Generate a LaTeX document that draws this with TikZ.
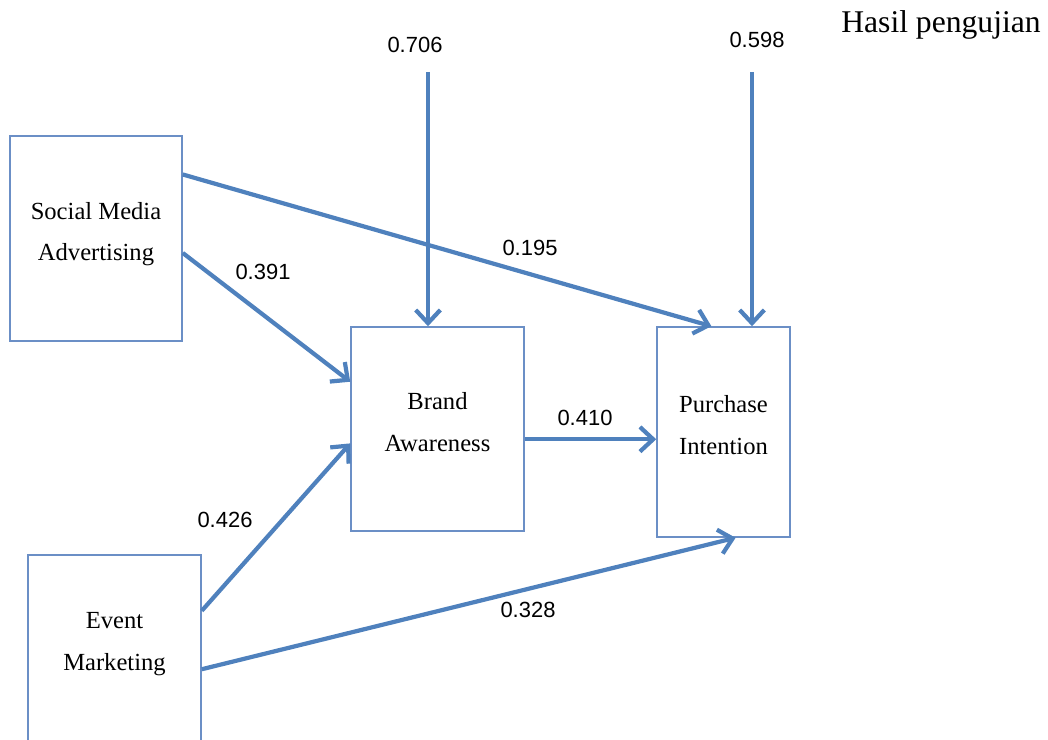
\documentclass[tikz,border=0pt]{standalone}
\usepackage{fontspec}
\setmainfont{Liberation Serif}
\newfontfamily\numfont{Liberation Sans}
\usetikzlibrary{arrows.meta,positioning,calc}
\definecolor{linkblue}{HTML}{4F81BD}
\definecolor{boxblue}{HTML}{6B8FC6}

\begin{document}
\begin{tikzpicture}[x=0.02cm,y=-0.02cm,
			var/.style={rectangle,draw=boxblue,line width=0.9pt,align=center,inner sep=0pt,text depth=0.28cm,
				font=\fontsize{14}{23.5}\selectfont},
			link/.style={draw=linkblue,line width=2.4pt,-{Straight Barb[length=7.5pt,width=14pt,line width=2.4pt]}},
			coef/.style={font=\numfont\fontsize{12.5}{14}\selectfont}]
		\clip (0,0) rectangle (1048,740);
		\useasboundingbox (0,0) rectangle (1048,740);
		\path 	(96,238.5) 	node 	(sma) [var, minimum width=3.44cm, minimum height=4.1cm] {Social Media\\Advertising}
		        (437.5,429) node 	(ba) [var, minimum width=3.46cm, minimum height=4.08cm] {Brand\\Awareness}
		        (723.5,432) node 	(pi) [var, minimum width=2.66cm, minimum height=4.2cm] {Purchase\\Intention}
		        (114.5,648.5) node 	(em) [var, minimum width=3.46cm, minimum height=3.74cm] {Event\\Marketing};
		\coordinate (e1) at (428,72);
		\coordinate (e2) at (752,72);
		\coordinate (b1) at ($(ba.north east)!0.55!(ba.south east)$);
		\draw [link] (e1) -- (e1 |- ba.north);
		\draw [link] (e2) -- (e2 |- pi.north);
		\draw [link] ($(sma.north east)!0.19!(sma.south east)$) -- ($(pi.north west)!0.41!(pi.north east)$);
		\draw [link] ($(sma.north east)!0.57!(sma.south east)$) -- ($(ba.north west)!0.27!(ba.south west)$);
		\draw [link] (b1) -- (b1 -| pi.west);
		\draw [link] ($(em.north east)!0.30!(em.south east)$) -- ($(ba.north west)!0.57!(ba.south west)$);
		\draw [link] ($(em.north east)!0.61!(em.south east)$) -- ($(pi.south west)!0.59!(pi.south east)$);
		\path 	(415,45) 	node (c1) [coef] {0.706}
		        (757,40) 	node (c2) [coef] {0.598}
		        (530,248) 	node (c3) [coef] {0.195}
		        (263,272) 	node (c4) [coef] {0.391}
		        (585,418) 	node (c5) [coef] {0.410}
		        (225,520) 	node (c6) [coef] {0.426}
		        (528,610) 	node (c7) [coef] {0.328}
		        (941,25) 	node (ttl) [font=\fontsize{18}{20}\selectfont] {Hasil pengujian};
	\end{tikzpicture}
\end{document}
